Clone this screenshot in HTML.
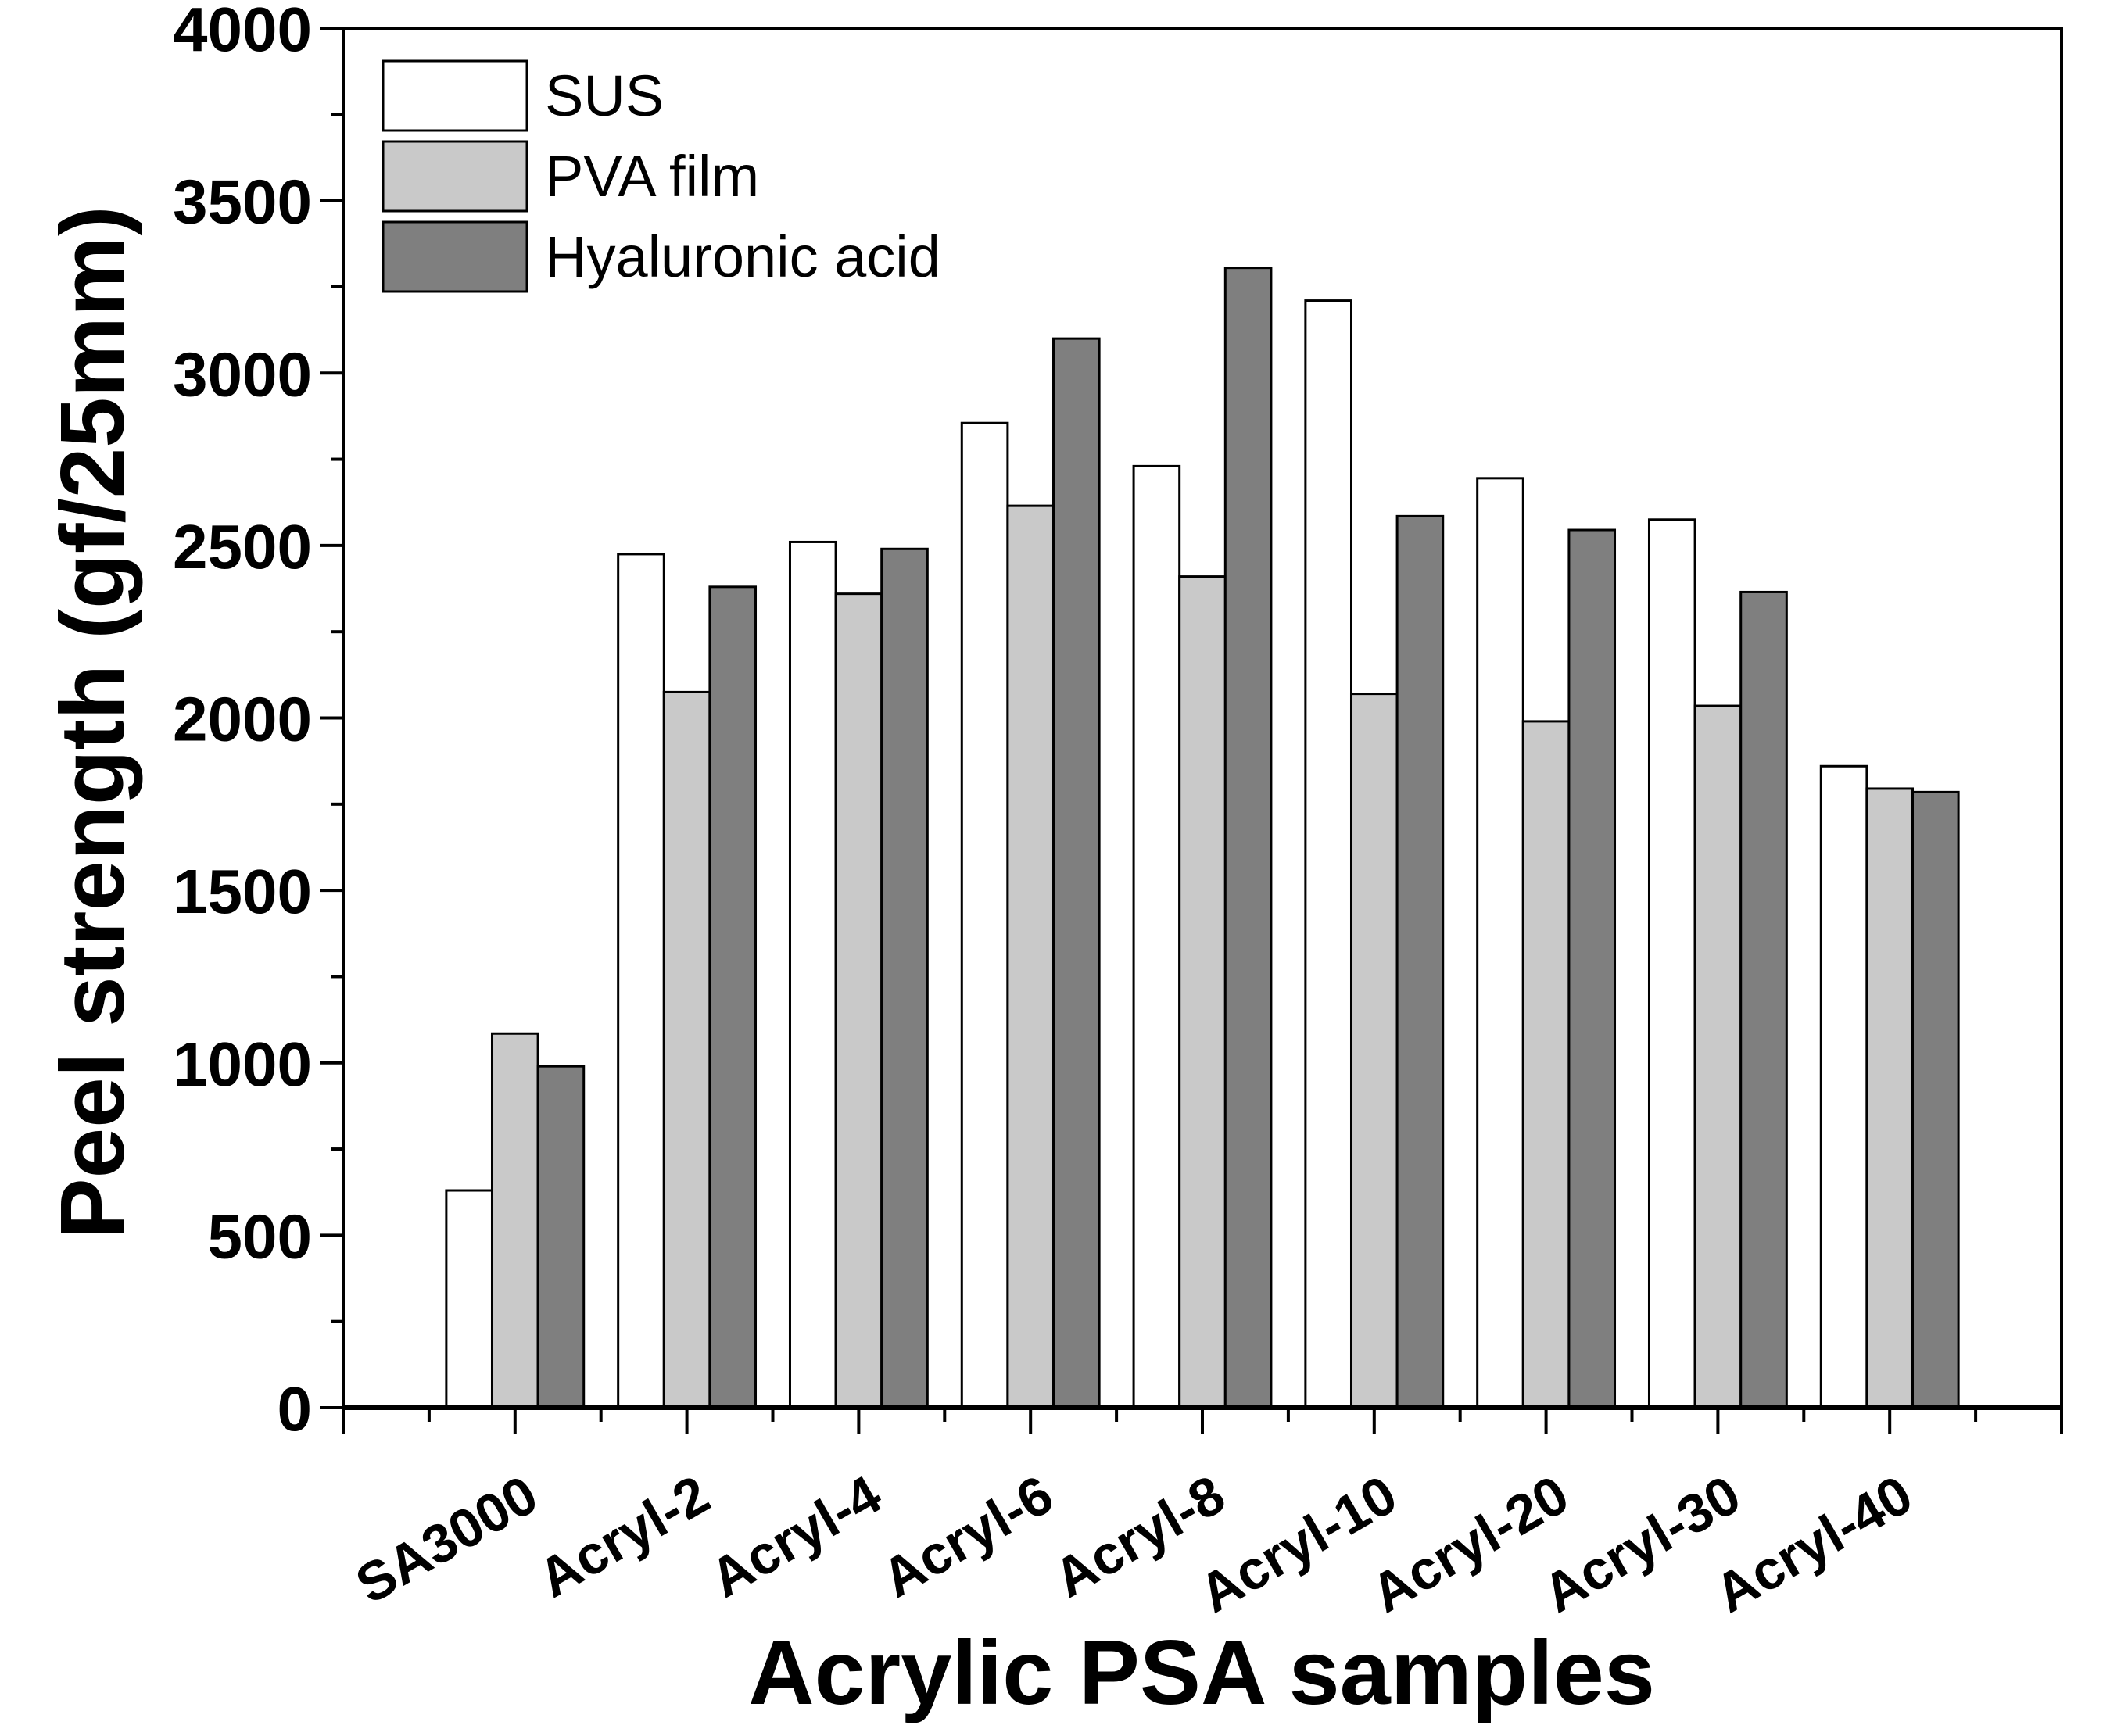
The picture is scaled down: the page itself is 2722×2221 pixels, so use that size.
<!DOCTYPE html>
<html><head><meta charset="utf-8"><style>
html,body{margin:0;padding:0;background:#fff;}
svg{display:block;font-family:"Liberation Sans",Arial,sans-serif;}
</style></head><body>
<svg id="chart" width="2722" height="2221" viewBox="0 0 2722 2221" xmlns="http://www.w3.org/2000/svg">
<rect width="2722" height="2221" fill="#fff"/>
<g id="plot"></g>
</svg>
<script>
const categories = ["SA3000","Acryl-2","Acryl-4","Acryl-6","Acryl-8","Acryl-10","Acryl-20","Acryl-30","Acryl-40"];
const susValues = [630,2475,2510,2855,2730,3210,2695,2575,1860];
const pvaValues = [1085,2075,2360,2615,2410,2070,1990,2035,1795];
const haValues = [990,2380,2490,3100,3305,2585,2545,2365,1785];
const yTicks = [0,500,1000,1500,2000,2500,3000,3500,4000];
const seriesNames = ["SUS","PVA film","Hyaluronic acid"];

const NS="http://www.w3.org/2000/svg";
const plot=document.getElementById('plot');
const L=439,R=2637,T=36,B=1801;
const yMax=4000;
const step=(R-L)/10;
function y(v){return B-(v/yMax)*(B-T);}
function x(i){return L+step*(i+1);}
function mk(tag,attrs,parent){const e=document.createElementNS(NS,tag);for(const k in attrs)e.setAttribute(k,attrs[k]);(parent||plot).appendChild(e);return e;}

const fills=["#ffffff","#c9c9c9","#7f7f7f"];
const series=[susValues,pvaValues,haValues];
const bw=step*0.8/3;
series.forEach((vals,s)=>{
  vals.forEach((v,i)=>{
    const bx=x(i)-1.5*bw+s*bw;
    const r=mk('rect',{x:bx,y:y(v),width:bw,height:B-y(v),fill:fills[s],stroke:'#000','stroke-width':3});
    
    
  });
});

const fr=mk('rect',{x:L,y:T,width:R-L,height:B-T,fill:'none',stroke:'#000','stroke-width':4});


const xa=mk('line',{x1:L,y1:B,x2:R,y2:B,stroke:'#000','stroke-width':6});


const ya=mk('line',{x1:L,y1:T,x2:L,y2:B,stroke:'#000','stroke-width':4});



yTicks.forEach(v=>{
  const t=mk('line',{x1:L-30,y1:y(v),x2:L,y2:y(v),stroke:'#000','stroke-width':4});
  
  
  if(v<yMax){const m=mk('line',{x1:L-16,y1:y(v+250),x2:L,y2:y(v+250),stroke:'#000','stroke-width':4});
  
  }
  const lb=mk('text',{x:L-40,y:y(v)+29,'text-anchor':'end','font-size':80,'font-weight':'bold'});
  lb.textContent=v;
  
  
});
for(let k=0;k<=10;k++){
  const xx=L+step*k;
  const t=mk('line',{x1:xx,y1:B,x2:xx,y2:B+34,stroke:'#000','stroke-width':4});
  
  
  if(k<10){const m=mk('line',{x1:xx+step/2,y1:B,x2:xx+step/2,y2:B+18,stroke:'#000','stroke-width':4});
  
  }
}
categories.forEach((c,i)=>{
  const px=x(i)+34, py=B+126;
  const lb=mk('text',{x:px,y:py,'text-anchor':'end','font-size':70,'font-weight':'bold',transform:`rotate(-30 ${px} ${py})`});
  lb.textContent=c;
  
  
});
const xt=mk('text',{x:1537,y:2180,'text-anchor':'middle','font-size':117,'font-weight':'bold'});
xt.textContent='Acrylic PSA samples';


const yt=mk('text',{x:0,y:0,'text-anchor':'middle','font-size':116,'font-weight':'bold',transform:'translate(158 924) rotate(-90)'});
yt.textContent='Peel strength (gf/25mm)';


seriesNames.forEach((n,s)=>{
  const ly=78+s*103;
  const r=mk('rect',{x:490,y:ly,width:184,height:89,fill:fills[s],stroke:'#000','stroke-width':3});
  
  
  const t=mk('text',{x:697,y:ly+70,'font-size':74});
  t.textContent=n;
  
  
});
</script>
</body></html>
